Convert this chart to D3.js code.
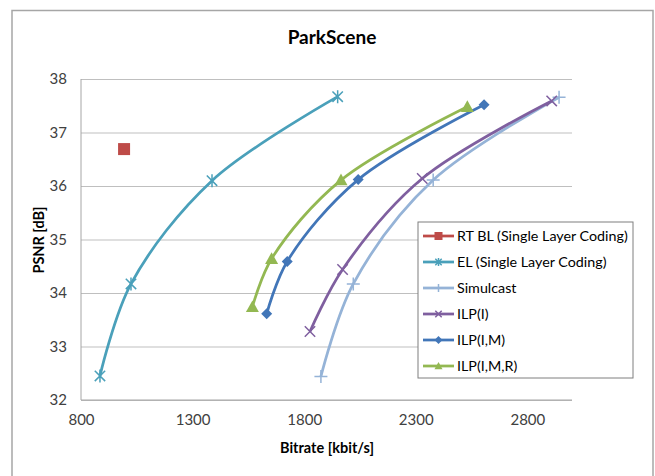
<!DOCTYPE html>
<html>
<head>
<meta charset="utf-8">
<script src="https://cdn.jsdelivr.net/npm/d3@7"></script>
<style>
  body { margin: 0; background: #fff; }
  svg text { font-family: Lato, "Open Sans", sans-serif; fill: #404040; }
</style>
</head>
<body>
<svg id="chart" width="655" height="476"></svg>
<script>
// series, in legend order
var seriesNames = ["RT BL (Single Layer Coding)", "EL (Single Layer Coding)", "Simulcast", "ILP(I)", "ILP(I,M)", "ILP(I,M,R)"];
var seriesColors = ["#be4b48", "#4aa0ba", "#95b3d7", "#7f5f9f", "#4276b8", "#93b852"];
var seriesMarkers = ["square", "star", "plus", "cross", "diamond", "triangle"];

// bitrate [kbit/s] and PSNR [dB] per series
var rtblRate = [993];
var rtblPsnr = [36.69];
var elRate = [885, 1024, 1387, 1950];
var elPsnr = [32.45, 34.17, 36.10, 37.67];
var simRate = [1875, 2020, 2378, 2942];
var simPsnr = [32.44, 34.17, 36.11, 37.66];
var ilpIRate = [1826, 1972, 2329, 2909];
var ilpIPsnr = [33.28, 34.44, 36.14, 37.59];
var ilpIMRate = [1632, 1724, 2042, 2606];
var ilpIMPsnr = [33.61, 34.59, 36.12, 37.52];
var ilpIMRRate = [1568, 1654, 1965, 2531];
var ilpIMRPsnr = [33.74, 34.64, 36.11, 37.48];

var xTicks = [800, 1300, 1800, 2300, 2800];
var yTicks = [32, 33, 34, 35, 36, 37, 38];

var allRates = [rtblRate, elRate, simRate, ilpIRate, ilpIMRate, ilpIMRRate];
var allPsnr = [rtblPsnr, elPsnr, simPsnr, ilpIPsnr, ilpIMPsnr, ilpIMRPsnr];

var svg = d3.select("#chart");

// outer chart frame (bottom edge is cut off in the picture)
svg.append("path")
    .attr("d", "M12,480V10.5H653V480")
    .attr("fill", "none")
    .attr("stroke", "#a6a6a6")
    .attr("stroke-width", 1.5);

var plot = { left: 81, right: 572, top: 79, bottom: 400 };

var x = d3.scaleLinear().domain([800, 3000]).range([plot.left, plot.right]);
var y = d3.scaleLinear().domain([32, 38]).range([plot.bottom, plot.top]);

// horizontal gridlines
svg.append("g")
    .attr("transform", "translate(" + plot.left + ",0)")
    .call(d3.axisLeft(y).tickValues(yTicks).tickSize(-(plot.right - plot.left)).tickFormat(""))
    .call(function (g) {
        g.select(".domain").remove();
        g.selectAll(".tick line").attr("stroke", "#bfbfbf").attr("stroke-width", 1);
    });

// axis lines
svg.append("line")
    .attr("x1", plot.left).attr("x2", plot.left)
    .attr("y1", plot.top).attr("y2", plot.bottom)
    .attr("stroke", "#a6a6a6");
svg.append("line")
    .attr("x1", plot.left).attr("x2", plot.right)
    .attr("y1", plot.bottom).attr("y2", plot.bottom)
    .attr("stroke", "#a6a6a6");

// tick labels
svg.append("g")
    .attr("transform", "translate(" + plot.left + ",0)")
    .call(d3.axisLeft(y).tickValues(yTicks).tickSize(0).tickPadding(14).tickFormat(d3.format("d")))
    .call(function (g) {
        g.select(".domain").remove();
        g.selectAll("text").style("font-size", "15px").attr("fill", "#404040")
            .style("font-family", "Lato, sans-serif");
    });

svg.append("g")
    .attr("transform", "translate(0," + plot.bottom + ")")
    .call(d3.axisBottom(x).tickValues(xTicks).tickSize(0).tickPadding(14).tickFormat(d3.format("d")))
    .call(function (g) {
        g.select(".domain").remove();
        g.selectAll("text").style("font-size", "15px").attr("fill", "#404040")
            .style("font-family", "Lato, sans-serif");
    });

// titles
svg.append("text")
    .attr("x", 332).attr("y", 44)
    .attr("text-anchor", "middle")
    .style("font-size", "19px").style("font-weight", "bold")
    .style("fill", "#000")
    .text("ParkScene");

svg.append("text")
    .attr("transform", "translate(44,240) rotate(-90)")
    .attr("text-anchor", "middle")
    .style("font-size", "14.5px").style("font-weight", "bold")
    .style("fill", "#000")
    .text("PSNR [dB]");

svg.append("text")
    .attr("x", 327).attr("y", 453)
    .attr("text-anchor", "middle")
    .style("font-size", "14.5px").style("font-weight", "bold")
    .style("fill", "#000")
    .text("Bitrate [kbit/s]");

/*====================================================================
       drawMarker()
       draws one marker of the given type centred on cx, cy
    ==================================================================*/
function drawMarker(g, type, cx, cy, size, color) {
    var h = size / 2;
    var m = g.append("g").attr("transform", "translate(" + cx + "," + cy + ")");
    if (type === "square") {
        m.append("rect").attr("x", -h).attr("y", -h).attr("width", size).attr("height", size)
            .attr("fill", color);
    } else if (type === "diamond") {
        m.append("path").attr("d", "M0," + (-h) + "L" + h + ",0L0," + h + "L" + (-h) + ",0Z")
            .attr("fill", color);
    } else if (type === "triangle") {
        m.append("path").attr("d", "M0," + (-h) + "L" + h + "," + (h * 0.8) + "L" + (-h) + "," + (h * 0.8) + "Z")
            .attr("fill", color);
    } else {
        var p = "";
        if (type === "cross" || type === "star") {
            p += "M" + (-h * 0.8) + "," + (-h * 0.8) + "L" + (h * 0.8) + "," + (h * 0.8);
            p += "M" + (h * 0.8) + "," + (-h * 0.8) + "L" + (-h * 0.8) + "," + (h * 0.8);
        }
        if (type === "plus" || type === "star") {
            p += "M0," + (-h) + "L0," + h;
        }
        if (type === "plus") {
            p += "M" + (-h) + ",0L" + h + ",0";
        }
        m.append("path").attr("d", p).attr("fill", "none")
            .attr("stroke", color).attr("stroke-width", 1.5);
    }
}

var line = d3.line()
    .x(function (d) { return x(d[0]); })
    .y(function (d) { return y(d[1]); })
    .curve(d3.curveCatmullRom.alpha(0.5));

var markerSizes = [12, 13, 13, 13, 11, 13];

allRates.forEach(function (rates, i) {
    var pts = rates.map(function (r, j) { return [r, allPsnr[i][j]]; });
    var g = svg.append("g");
    if (pts.length > 1) {
        g.append("path")
            .datum(pts)
            .attr("d", line)
            .attr("fill", "none")
            .attr("stroke", seriesColors[i])
            .attr("stroke-width", 2.75);
    }
    pts.forEach(function (d) {
        drawMarker(g, seriesMarkers[i], x(d[0]), y(d[1]), markerSizes[i], seriesColors[i]);
    });
});

// legend
var legend = svg.append("g").attr("transform", "translate(418,222)");
legend.append("rect")
    .attr("width", 215).attr("height", 156)
    .attr("fill", "#fff")
    .attr("stroke", "#7f7f7f").attr("stroke-width", 1);

seriesNames.forEach(function (name, i) {
    var ly = 14 + i * 26;
    legend.append("line")
        .attr("x1", 5).attr("x2", 36).attr("y1", ly).attr("y2", ly)
        .attr("stroke", seriesColors[i]).attr("stroke-width", 2.75);
    drawMarker(legend, seriesMarkers[i], 20.5, ly, 8, seriesColors[i]);
    legend.append("text")
        .attr("x", 39).attr("y", ly + 5)
        .style("font-size", "14.3px")
        .style("fill", "#000")
        .text(name);
});
</script>
</body>
</html>
